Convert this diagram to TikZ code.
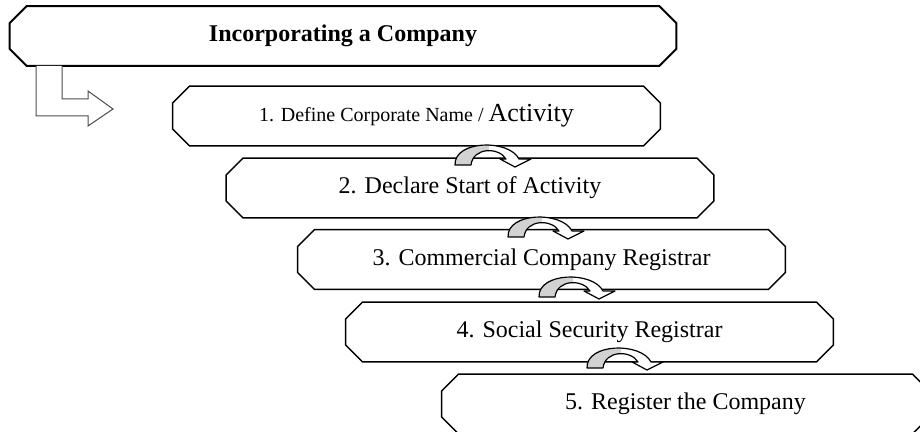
\documentclass[tikz,border=0pt]{standalone}
\usepackage{fontspec}
\setmainfont{Liberation Serif}

% outline of the little turning arrow between two steps
\def\turnpath{(0,19) .. controls (-1,-6) and (54,-7) .. (64,13) -- (76,13) -- (60,21)
  -- (45,13) -- (51,13) .. controls (44,1) and (18,1) .. (16,19) -- cycle}

\tikzset{
	stepbox/.style={rectangle, minimum width=243.5pt, minimum height=29.5pt,
		inner sep=0pt, font=\fontsize{12}{14}\selectfont},
	titlebox/.style={stepbox, minimum width=333pt,
		font=\fontsize{12}{14}\selectfont\bfseries},
	cut/.style={line width=0.7pt, line join=miter},
	turn/.pic={
		\fill[white] \turnpath;
		\begin{scope}
			\clip (-2,-2) rectangle (34,24);
			\fill[gray!35] \turnpath;
		\end{scope}
		\draw[line width=0.6pt, line join=round] \turnpath;
	}
}

% box with its four corners cut off
\newcommand{\cutbox}[2][]{%
	\draw[cut,#1] ([xshift=8.5pt]#2.north west) -- ([xshift=-8.5pt]#2.north east)
		-- ([yshift=-8.5pt]#2.north east) -- ([yshift=8.5pt]#2.south east)
		-- ([xshift=-8.5pt]#2.south east) -- ([xshift=8.5pt]#2.south west)
		-- ([yshift=8.5pt]#2.south west) -- ([yshift=-8.5pt]#2.north west) -- cycle;}

\begin{document}
\begin{tikzpicture}[x=0.5pt, y=-0.5pt]
	\useasboundingbox (0,0) rectangle (920,432);

	%Heading
	\node[titlebox] (title) at (343,36) {Incorporating a Company};
	\cutbox[line width=1pt]{title}

	%Block arrow leaving the heading
	\draw[gray!60!black, line width=0.5pt, fill=white]
		(36,66) -- (36,116) -- (88,116) -- (88,126) -- (113,109)
		-- (88,91) -- (88,99) -- (62,99) -- (62,66);

	%The five steps
	\node[stepbox] (s1) at (416.5,116)
		{{\fontsize{10}{12}\selectfont 1. Define Corporate Name / }{\fontsize{13}{15}\selectfont Activity}};
	\node[stepbox] (s2) at (470,188) {2. Declare Start of Activity};
	\node[stepbox] (s3) at (541.5,259.5) {3. Commercial Company Registrar};
	\node[stepbox] (s4) at (589.5,332) {4. Social Security Registrar};
	\node[stepbox] (s5) at (685.5,404) {5. Register the Company};
	\foreach \s in {s1,s2,s3,s4,s5}{
		\cutbox{\s}
	}

	%Turning arrows from one step to the next
	\pic at (455,146) {turn};
	\pic at (508,218) {turn};
	\pic at (539,278) {turn};
	\pic at (587,349) {turn};
\end{tikzpicture}
\end{document}
